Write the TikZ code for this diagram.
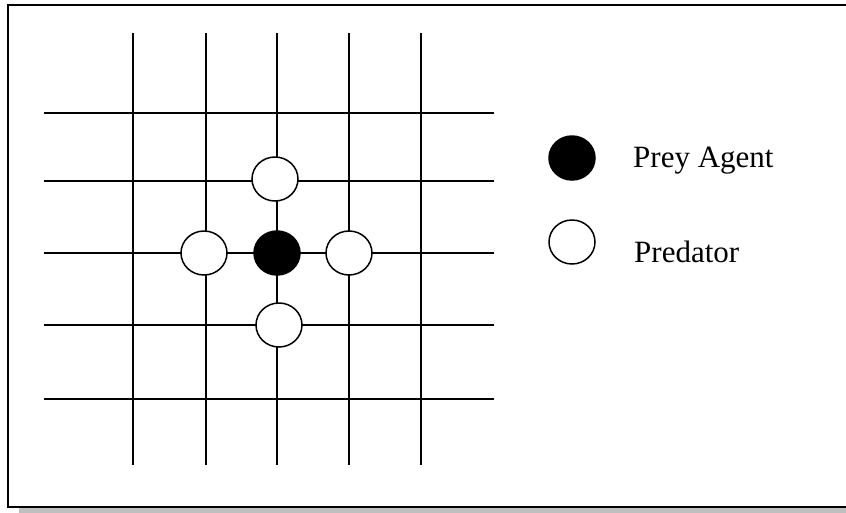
\documentclass[tikz,border=0pt]{standalone}
\usepackage{fontspec}
\setmainfont{Liberation Serif}
\usetikzlibrary{shapes.geometric}

\begin{document}
\begin{tikzpicture}[x=1pt, y=-1pt,
  gridline/.style={line width=1.5pt},
  agent/.style={draw, ellipse, line width=1.5pt, inner sep=0pt,
                minimum width=46pt, minimum height=44pt},
  prey/.style={agent, fill=black},
  predator/.style={agent, fill=white},
  legend/.style={anchor=base west, font=\fontsize{31}{36}\selectfont, inner sep=0pt}]
\useasboundingbox (0,0) rectangle (846,512);

% ---------- frame ----------
\fill[black!25] (19,507) rectangle (850,513);
\draw[line width=1.8pt, fill=white] (8,5) rectangle (850,507);

% ---------- grid ----------
\foreach \y in {113,181,253,325,399} {
  \draw[gridline] (44,\y) -- (494,\y);
}
\foreach \x in {133,206,277,349,421} {
  \draw[gridline] (\x,33) -- (\x,465);
}

% ---------- agents ----------
\node[prey]     (prey)  at (277,253) {};
\node[predator] (pred-n) at (275,179) {};
\node[predator] (pred-w) at (204,253) {};
\node[predator] (pred-e) at (349,253) {};
\node[predator] (pred-s) at (279,325) {};

% ---------- legend ----------
\node[prey]     (key-prey) at (572,158) {};
\node[predator] (key-pred) at (572,242) {};
\node[legend]   (lab-prey) at (633,167) {Prey Agent};
\node[legend]   (lab-pred) at (634,262) {Predator};
\end{tikzpicture}
\end{document}
